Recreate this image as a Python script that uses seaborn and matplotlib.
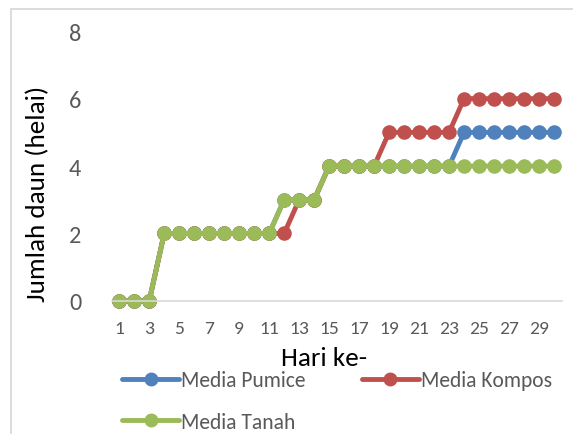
import numpy as np
import pandas as pd
import matplotlib
matplotlib.use("Agg")
import matplotlib.pyplot as plt
import seaborn as sns
from matplotlib.lines import Line2D

days = list(range(1, 31))
pumice = [0,0,0,2,2,2,2,2,2,2,2,3,3,3,4,4,4,4,4,4,4,4,4,5,5,5,5,5,5,5]
kompos = [0,0,0,2,2,2,2,2,2,2,2,2,3,3,4,4,4,4,5,5,5,5,5,6,6,6,6,6,6,6]
tanah  = [0,0,0,2,2,2,2,2,2,2,2,3,3,3,4,4,4,4,4,4,4,4,4,4,4,4,4,4,4,4]
series_names = ["Media Pumice", "Media Kompos", "Media Tanah"]
colors = ["#4F81BD", "#C0504D", "#9BBB59"]
xtick_labels = [str(d) for d in range(1, 30, 2)]

df = pd.concat([
    pd.DataFrame({"Hari": days, "Jumlah": v, "Media": n})
    for n, v in zip(series_names, [pumice, kompos, tanah])
])

sns.set_style("white")
plt.rcParams["font.family"] = ["Carlito", "Liberation Sans", "DejaVu Sans"]

fig = plt.figure(figsize=(5.73, 4.35), dpi=100)
ax = fig.add_axes([0.195, 0.306, 0.785, 0.62])

sns.lineplot(data=df, x="Hari", y="Jumlah", hue="Media", palette=colors,
             hue_order=series_names, marker="o", markersize=10.5, linewidth=3.5,
             markeredgewidth=0, ax=ax, legend=False)

ax.set_xlim(0.5, 30.5)
ax.set_ylim(0, 8)
ax.set_yticks([0, 2, 4, 6, 8])
ax.set_xticks(range(1, 30, 2))
ax.set_xticklabels(xtick_labels)
ax.tick_params(axis="y", labelsize=17.5, colors="#595959", length=0, pad=22)
ax.tick_params(axis="x", labelsize=14, colors="#595959", length=0, pad=14)
for s in ["top", "right", "left"]:
    ax.spines[s].set_visible(False)
ax.spines["bottom"].set_color("#D9D9D9")
ax.spines["bottom"].set_linewidth(1.2)
for ln in ax.lines:
    ln.set_clip_on(False)

ax.set_xlabel("Hari ke-", fontsize=19.5, color="black", va="center")
ax.xaxis.set_label_coords(0.471, -0.211)
ax.set_ylabel("Jumlah daun (helai)", fontsize=19.5, color="black", va="center")
ax.yaxis.set_label_coords(-0.164, 0.40)

order = [0, 2, 1]
handles = [Line2D([0], [0], color=colors[i], lw=3.5, marker="o", markersize=9)
           for i in order]
labels = [series_names[i] for i in order]
fig.legend(handles, labels, loc="upper left", bbox_to_anchor=(0.213, 0.146),
           ncol=2, frameon=False, fontsize=15.5, labelcolor="#595959",
           handlelength=2.65, handletextpad=0.1, columnspacing=2.6,
           labelspacing=1.0, borderaxespad=0, borderpad=0)

fig.add_artist(Line2D([0.0185, 0.0185], [0, 0.977], color="#D9D9D9", lw=1.3,
                      transform=fig.transFigure))
fig.add_artist(Line2D([0.0185, 1.0], [0.977, 0.977], color="#D9D9D9", lw=1.3,
                      transform=fig.transFigure))

fig.savefig("out.png", dpi=100)
